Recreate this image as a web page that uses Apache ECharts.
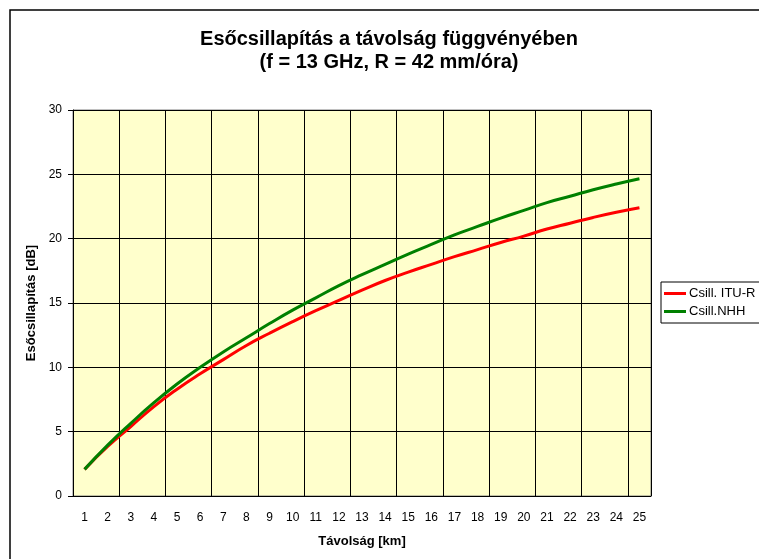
<!DOCTYPE html>
<html>
<head>
<meta charset="utf-8">
<script src="https://cdn.jsdelivr.net/npm/echarts@6/dist/echarts.min.js"></script>
<style>
  html, body { margin: 0; padding: 0; background: #fff; }
  #chart { width: 759px; height: 559px; }
</style>
</head>
<body>
<div id="chart"></div>
<script>
// távolság (km)
const distances = ['1', '2', '3', '4', '5', '6', '7', '8', '9', '10', '11', '12', '13',
  '14', '15', '16', '17', '18', '19', '20', '21', '22', '23', '24', '25']

// esőcsillapítás [dB]
const ituR = [2.07, 3.85, 5.4, 6.95, 8.3, 9.5, 10.6, 11.7, 12.65, 13.55, 14.4, 15.2, 16.0,
  16.75, 17.4, 18.0, 18.6, 19.15, 19.7, 20.2, 20.75, 21.2, 21.65, 22.05, 22.4]
const nhh = [2.07, 3.95, 5.65, 7.25, 8.7, 10.0, 11.2, 12.3, 13.4, 14.45, 15.4, 16.35, 17.2,
  18.0, 18.8, 19.55, 20.3, 20.95, 21.6, 22.2, 22.8, 23.3, 23.8, 24.25, 24.66]

const yTicks = { min: 0, max: 30, step: 5 }

const font = 'Arial, "Liberation Sans", sans-serif'

const chart = echarts.init(document.getElementById('chart'))
chart.setOption({
  backgroundColor: '#fff',
  animation: false,
  textStyle: { fontFamily: font },
  title: {
    text: 'Esőcsillapítás a távolság függvényében\n(f = 13 GHz, R = 42 mm/óra)',
    left: 389,
    top: 28,
    padding: 0,
    textAlign: 'center',
    textStyle: {
      fontFamily: font,
      fontSize: 20,
      fontWeight: 'bold',
      color: '#000',
      lineHeight: 23
    }
  },
  graphic: [
    {
      type: 'rect',
      shape: { x: 10, y: 10, width: 800, height: 600 },
      style: { fill: 'none', stroke: '#000', lineWidth: 1.5 },
      silent: true,
      z: -1
    }
  ],
  legend: {
    orient: 'vertical',
    left: 661,
    top: 282,
    padding: [5, 6, 5, 3],
    itemGap: 5,
    itemWidth: 22,
    itemHeight: 3,
    icon: 'rect',
    borderColor: '#000',
    borderWidth: 1,
    backgroundColor: '#fff',
    textStyle: { fontFamily: font, fontSize: 13, color: '#000', padding: [0, 0, 0, -2] },
    data: ['Csill. ITU-R', 'Csill.NHH']
  },
  grid: {
    left: 73,
    right: 108,
    top: 110,
    bottom: 63,
    show: true,
    backgroundColor: '#FFFFCC',
    borderColor: '#808080',
    borderWidth: 1
  },
  xAxis: {
    type: 'category',
    data: distances,
    boundaryGap: true,
    name: 'Távolság [km]',
    nameLocation: 'middle',
    nameGap: 39,
    nameTextStyle: { fontFamily: font, fontSize: 13, fontWeight: 'bold', color: '#000' },
    axisLine: { lineStyle: { color: '#000', width: 1 } },
    axisTick: { interval: 1, length: 5, lineStyle: { color: '#000' } },
    axisLabel: { interval: 0, margin: 16, fontSize: 12, color: '#000', fontFamily: font },
    splitLine: { show: true, interval: 1, lineStyle: { color: '#000', width: 1 } }
  },
  yAxis: {
    type: 'value',
    min: yTicks.min,
    max: yTicks.max,
    interval: yTicks.step,
    name: 'Esőcsillapítás [dB]',
    nameLocation: 'middle',
    nameGap: 35,
    nameTextStyle: { fontFamily: font, fontSize: 13, fontWeight: 'bold', color: '#000' },
    axisLine: { show: true, lineStyle: { color: '#000', width: 1 } },
    axisTick: { show: true, length: 5, lineStyle: { color: '#000' } },
    axisLabel: { margin: 11, fontSize: 12, color: '#000', fontFamily: font },
    splitLine: { show: true, lineStyle: { color: '#000', width: 1 } }
  },
  series: [
    {
      name: 'Csill. ITU-R',
      type: 'line',
      data: ituR,
      smooth: true,
      showSymbol: false,
      itemStyle: { color: '#FF0000' },
      lineStyle: { color: '#FF0000', width: 3 }
    },
    {
      name: 'Csill.NHH',
      type: 'line',
      data: nhh,
      smooth: true,
      showSymbol: false,
      itemStyle: { color: '#008000' },
      lineStyle: { color: '#008000', width: 3 }
    }
  ]
})
</script>
</body>
</html>
